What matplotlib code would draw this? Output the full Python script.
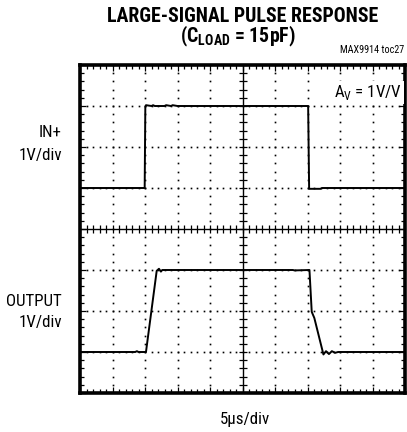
import matplotlib
matplotlib.use("Agg")
import matplotlib.pyplot as plt
import numpy as np

plt.rcParams["font.family"] = ["Roboto Condensed", "DejaVu Sans"]
plt.rcParams["mathtext.fontset"] = "custom"
plt.rcParams["mathtext.rm"] = "Roboto Condensed"
plt.rcParams["mathtext.bf"] = "Roboto Condensed:bold"

# scope traces, in divisions (x: 0..10, y: 0..8)
in_t = [0, 1.99, 2.01, 2.03, 2.2, 2.25, 2.3, 2.6, 2.65, 2.8, 2.85, 3.0, 3.6,
        7.02, 7.05, 7.4, 7.45, 10]
in_v = [5.0, 5.0, 6.97, 7.02, 7.0, 7.02, 7.0, 7.0, 7.02, 7.0, 7.02, 7.0, 7.0,
        7.0, 4.98, 4.98, 5.0, 5.0]

out_t = [0, 1.7, 1.75, 1.8, 2.03, 2.36, 2.43, 2.49, 2.53, 4.6, 4.65, 6.55,
         6.6, 7.06, 7.13, 7.21, 7.49, 7.57, 7.66, 7.75, 7.85, 7.94, 10]
out_v = [1.0, 1.0, 1.02, 1.0, 1.0, 2.98, 3.03, 2.96, 3.0, 3.0, 3.0, 3.0,
         2.99, 3.0, 1.98, 1.83, 0.94, 1.02, 0.95, 1.02, 0.98, 1.0, 1.0]

n_xdiv = 10
n_ydiv = 8

W, H = 407, 432
fig = plt.figure(figsize=(W / 100, H / 100), dpi=100)
ax = fig.add_axes([80 / W, 1 - 393 / H, 325 / W, 328 / H])
ax.set_xlim(0, n_xdiv)
ax.set_ylim(0, n_ydiv)

# dotted graticule
minor_x = np.arange(0, n_xdiv + 0.01, 0.2)
minor_y = np.arange(0, n_ydiv + 0.01, 0.2)
for gx in range(1, n_xdiv):
    if gx == 5:
        continue
    ax.plot(np.full_like(minor_y, gx), minor_y, ls="none", marker="s",
            ms=1.2, color="black", mew=0)
for gy in range(1, n_ydiv):
    if gy == 4:
        continue
    ax.plot(minor_x, np.full_like(minor_x, gy), ls="none", marker="s",
            ms=1.2, color="black", mew=0)

# center crosshair with ticks
ax.axvline(5, color="black", lw=1.0)
ax.axhline(4, color="black", lw=1.0)
ax.plot(minor_x, np.full_like(minor_x, 4), ls="none", marker="|", ms=6,
        mew=0.9, color="black")
ax.plot(np.full_like(minor_y, 5), minor_y, ls="none", marker="_", ms=6,
        mew=0.9, color="black")

# traces
ax.plot(in_t, in_v, color="black", lw=1.4)
ax.plot(out_t, out_v, color="black", lw=1.4)

# frame
for s in ax.spines.values():
    s.set_linewidth(2.6)
ax.set_xticks(range(0, n_xdiv + 1))
ax.set_yticks(range(0, n_ydiv + 1))
ax.set_xticks(minor_x, minor=True)
ax.set_yticks(minor_y, minor=True)
ax.tick_params(which="both", direction="in", top=True, right=True,
               labelbottom=False, labelleft=False)
ax.tick_params(which="major", length=4, width=0.9)
ax.tick_params(which="minor", length=3, width=0.9)

# text
fig.text(243 / W, 1 - 22.5 / H, "LARGE-SIGNAL PULSE RESPONSE",
         ha="center", va="baseline", fontsize=14.3, fontweight="bold")
fig.text(238 / W, 1 - 42.5 / H, r"(C$_{\mathbf{LOAD}}$ = 15pF)",
         ha="center", va="baseline", fontsize=14.3, fontweight="bold")
fig.text(404 / W, 1 - 53 / H, "MAX9914 toc27", ha="right",
         va="baseline", fontsize=7.3)
fig.text(402 / W, 1 - 97 / H, r"A$_{\mathrm{V}}$ = 1V/V", ha="right",
         va="baseline", fontsize=12.2,
         bbox=dict(facecolor="white", edgecolor="none", pad=1.5))

fig.text(62 / W, 1 - 137 / H, "IN+", ha="right", va="baseline",
         fontsize=12.2)
fig.text(62 / W, 1 - 160 / H, "1V/div", ha="right", va="baseline",
         fontsize=12.2)
fig.text(62 / W, 1 - 306 / H, "OUTPUT", ha="right", va="baseline",
         fontsize=12.2)
fig.text(62 / W, 1 - 327 / H, "1V/div", ha="right", va="baseline",
         fontsize=12.2)
fig.text(245 / W, 1 - 424 / H, "5\u03bcs/div", ha="center",
         va="baseline", fontsize=12.2)

fig.savefig("out.png", dpi=100)
